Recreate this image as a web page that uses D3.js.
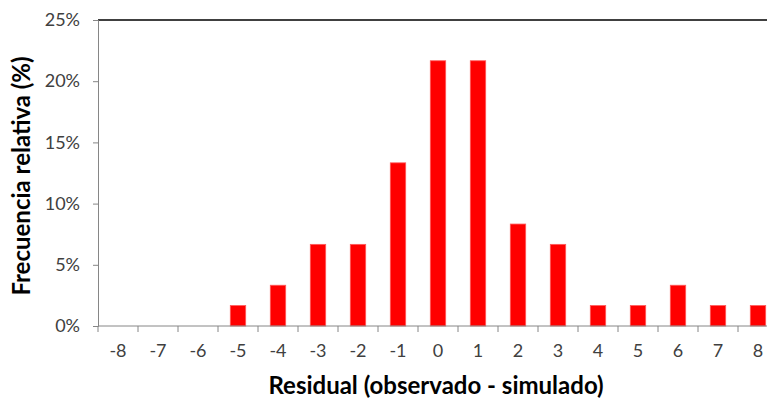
<!DOCTYPE html>
<html>
<head>
<meta charset="utf-8">
<script src="https://cdn.jsdelivr.net/npm/d3@7"></script>
<style>
  html, body { margin: 0; padding: 0; background: #fff; overflow: hidden; }
  svg { display: block; }
  text { font-family: Lato, "Open Sans", sans-serif; }
</style>
</head>
<body>
<svg id="chart" width="767" height="398"></svg>
<script>
const categories = ["-8","-7","-6","-5","-4","-3","-2","-1","0","1","2","3","4","5","6","7","8"];
const values = [0, 0, 0, 1.67, 3.33, 6.67, 6.67, 13.33, 21.67, 21.67, 8.33, 6.67, 1.67, 1.67, 3.33, 1.67, 1.67];
const yTicks = [0, 5, 10, 15, 20, 25];
const yTitle = "Frecuencia relativa (%)";
const xTitle = "Residual (observado - simulado)";

(function () {
const svg = d3.select("#chart");
const mLeft = 98, mRight = 778, mTop = 20, mBottom = 326;

const x = d3.scaleBand().domain(categories).range([mLeft, mRight]).padding(0);
const y = d3.scaleLinear().domain([0, 25]).range([mBottom, mTop]);

const axisColor = "#868686";
const labelColor = "#404040";

// top border line
svg.append("line")
  .attr("x1", mLeft).attr("x2", 767)
  .attr("y1", y(25)).attr("y2", y(25))
  .attr("stroke", "#000").attr("stroke-width", 1.5);

// bars
const barW = x.bandwidth() * 0.385;
svg.append("g").selectAll("rect")
  .data(values.map((v, i) => ({c: categories[i], v})))
  .join("rect")
  .attr("x", d => x(d.c) + x.bandwidth() / 2 - barW / 2)
  .attr("width", barW)
  .attr("y", d => y(d.v))
  .attr("height", d => y(0) - y(d.v))
  .attr("fill", "#ff0000")
  .attr("stroke", "#ff5a5a")
  .attr("stroke-width", 0.8);

// y axis
const yAxis = d3.axisLeft(y).tickValues(yTicks).tickFormat(d => d + "%").tickSize(5).tickPadding(13);
const gy = svg.append("g").attr("transform", `translate(${mLeft},0)`).call(yAxis);
gy.select(".domain").attr("stroke", axisColor);
gy.selectAll(".tick line").attr("stroke", axisColor);
gy.selectAll(".tick text").attr("fill", labelColor).style("font-size", "18px").style("font-family", "Lato, sans-serif");

// x axis (labels at centers, ticks at band edges)
const xAxis = d3.axisBottom(x).tickSize(0).tickPadding(18);
const gx = svg.append("g").attr("transform", `translate(0,${mBottom})`).call(xAxis);
gx.select(".domain").remove();
gx.selectAll(".tick text").attr("fill", labelColor).style("font-size", "18px").style("font-family", "Lato, sans-serif");
svg.append("line").attr("x1", mLeft).attr("x2", 767).attr("y1", mBottom).attr("y2", mBottom).attr("stroke", axisColor);
const edges = categories.map(c => x(c)).concat([x(categories[categories.length - 1]) + x.bandwidth()]);
svg.append("g").selectAll("line").data(edges).join("line")
  .attr("x1", d => d).attr("x2", d => d)
  .attr("y1", mBottom).attr("y2", mBottom + 6)
  .attr("stroke", axisColor);

// titles
svg.append("text")
  .attr("transform", `translate(30,176) rotate(-90)`)
  .attr("text-anchor", "middle")
  .style("font-size", "24px").style("font-weight", "bold")
  .attr("fill", "#000")
  .text(yTitle);

svg.append("text")
  .attr("x", 436).attr("y", 394)
  .attr("text-anchor", "middle")
  .style("font-size", "24px").style("font-weight", "bold")
  .attr("fill", "#000")
  .text(xTitle);
})();
</script>
</body>
</html>
